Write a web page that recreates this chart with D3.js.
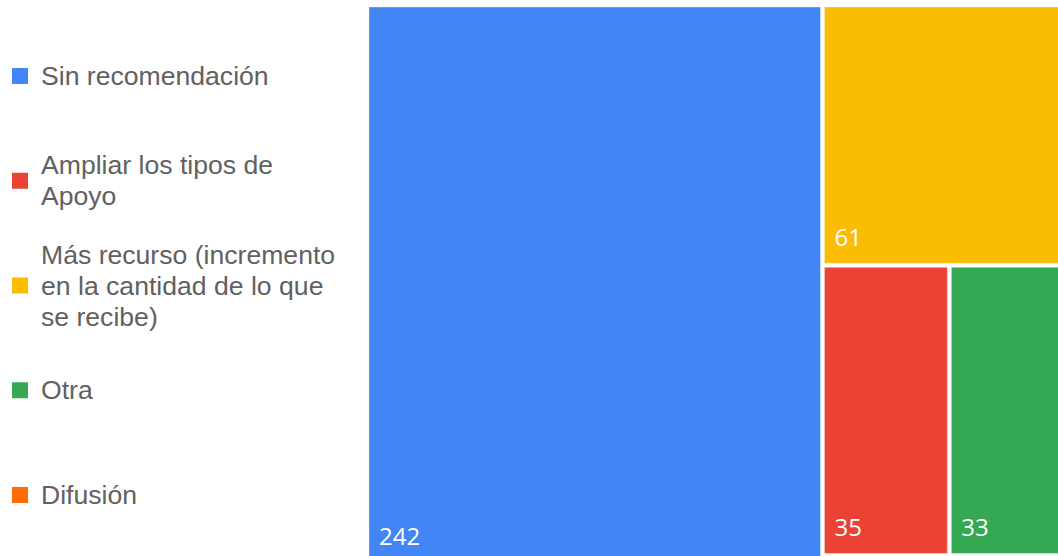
<!DOCTYPE html>
<html>
<head>
<meta charset="utf-8">
<script src="https://cdn.jsdelivr.net/npm/d3@7"></script>
<style>
  html, body { margin: 0; padding: 0; background: #fff; }
  svg { display: block; }
</style>
</head>
<body>
<svg id="chart" width="1058" height="556"></svg>
<script>
// ---- data ----
const categories = [
  "Sin recomendación",
  "Ampliar los tipos de Apoyo",
  "Más recurso (incremento en la cantidad de lo que se recibe)",
  "Otra",
  "Difusión"
];
const legendLines = [
  ["Sin recomendación"],
  ["Ampliar los tipos de", "Apoyo"],
  ["Más recurso (incremento", "en la cantidad de lo que", "se recibe)"],
  ["Otra"],
  ["Difusión"]
];
const values = [242, 35, 61, 33, 2];
const colors = ["#4285f4", "#ea4335", "#fbbc04", "#34a853", "#ff6d01"];

// ---- hierarchy (nesting of the tiles) ----
const leaf = i => ({ name: categories[i], value: values[i], idx: i });
const treeData = {
  name: "root",
  children: [
    leaf(0),
    { name: "g1", children: [
        leaf(2),
        { name: "g2", children: [leaf(1), leaf(3)] },
        leaf(4)
    ] }
  ]
};

const svg = d3.select("#chart");
const W = 698, H = 555, X0 = 369, Y0 = 7;

const root = d3.hierarchy(treeData).sum(d => d.value || 0);
d3.treemap().size([W, H]).tile(d3.treemapSliceDice).paddingInner(4)(root);

const color = d3.scaleOrdinal().domain(categories).range(colors);

const g = svg.append("g").attr("transform", `translate(${X0},${Y0})`);
const leaves = g.selectAll("g.leaf").data(root.leaves()).join("g").attr("class", "leaf");
leaves.append("rect")
  .attr("x", d => d.x0).attr("y", d => d.y0)
  .attr("width", d => d.x1 - d.x0).attr("height", d => d.y1 - d.y0)
  .attr("fill", d => color(d.data.name))
  .attr("stroke", "rgba(255,255,255,0.35)").attr("stroke-width", 1);
leaves.filter(d => (d.y1 - d.y0) > 30).append("text")
  .attr("x", d => d.x0 + 10)
  .attr("y", d => d.y1 - 17)
  .attr("fill", "#fff")
  .attr("font-family", "'Open Sans', sans-serif")
  .attr("font-size", 24)
  .text(d => d.data.value);

// ---- legend ----
const legY = d3.scalePoint().domain(categories).range([76, 495]);
const lineH = 31;
const lg = svg.append("g");
const items = lg.selectAll("g").data(categories).join("g")
  .attr("transform", d => `translate(0,${legY(d)})`);
items.append("rect")
  .attr("x", 12).attr("y", -8).attr("width", 16).attr("height", 16)
  .attr("fill", d => color(d));
items.append("text")
  .attr("font-family", "Arial, 'Liberation Sans', sans-serif")
  .attr("font-size", 26.6)
  .attr("fill", "#616161")
  .each(function(d, i) {
    const lines = legendLines[i];
    const t = d3.select(this);
    lines.forEach((ln, k) => {
      t.append("tspan")
        .attr("x", 41)
        .attr("y", (k - (lines.length - 1) / 2) * lineH + 9)
        .text(ln);
    });
  });
</script>
</body>
</html>
